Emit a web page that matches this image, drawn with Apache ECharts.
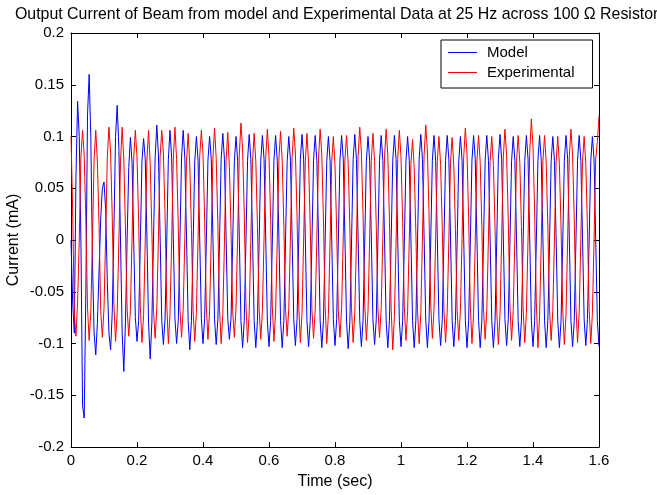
<!DOCTYPE html>
<html><head><meta charset="utf-8">
<script src="https://cdn.jsdelivr.net/npm/echarts@6/dist/echarts.min.js"></script>
<style>html,body{margin:0;padding:0;background:#fff}#c{width:657px;height:495px}</style>
</head><body><div id="c"></div>
<script>
const chartTitle = 'Output Current of Beam from model and Experimental Data at 25 Hz across 100 \u03A9 Resistor';
const seriesNames = ['Model', 'Experimental'];
const xAxisName = 'Time (sec)';
const yAxisName = 'Current (mA)';
const xTicks = [0, 0.2, 0.4, 0.6, 0.8, 1, 1.2, 1.4, 1.6];
const yTicks = [-0.2, -0.15, -0.1, -0.05, 0, 0.05, 0.1, 0.15, 0.2];
const sampleStep = 0.005; // seconds between samples, first sample at t = 0

// Model current (mA), one row per 0.04 s cycle
const model = [
  0.000, -0.060, -0.090, 0.060, 0.134, 0.100, 0.000, -0.160,
  -0.172, -0.050, 0.120, 0.160, 0.100, -0.020, -0.090, -0.111,
  -0.080, -0.030, 0.020, 0.050, 0.056, 0.030, -0.040, -0.090,
  -0.106, -0.070, 0.010, 0.100, 0.130, 0.090, 0.000, -0.090,
  -0.127, -0.080, 0.000, 0.070, 0.099, 0.075, 0.000, -0.075,
  -0.098, -0.078, -0.004, 0.076, 0.098, 0.078, 0.004, -0.080,
  -0.115, -0.080, 0.000, 0.080, 0.111, 0.082, 0.004, -0.078,
  -0.101, -0.076, -0.004, 0.078, 0.106, 0.080, 0.002, -0.076,
  -0.100, -0.078, -0.002, 0.080, 0.106, 0.079, 0.004, -0.078,
  -0.106, -0.078, -0.004, 0.076, 0.100, 0.077, 0.002, -0.076,
  -0.100, -0.076, -0.002, 0.077, 0.100, 0.078, 0.004, -0.077,
  -0.101, -0.077, -0.003, 0.078, 0.103, 0.078, 0.003, -0.076,
  -0.096, -0.075, -0.002, 0.076, 0.100, 0.077, 0.002, -0.078,
  -0.104, -0.078, -0.004, 0.077, 0.102, 0.078, 0.003, -0.078,
  -0.104, -0.078, -0.003, 0.077, 0.101, 0.078, 0.003, -0.078,
  -0.103, -0.078, -0.003, 0.077, 0.101, 0.077, 0.002, -0.078,
  -0.104, -0.078, -0.002, 0.076, 0.100, 0.077, 0.003, -0.077,
  -0.102, -0.077, -0.003, 0.078, 0.102, 0.078, 0.002, -0.078,
  -0.103, -0.078, -0.004, 0.077, 0.101, 0.077, 0.003, -0.078,
  -0.104, -0.078, -0.003, 0.076, 0.100, 0.077, 0.002, -0.077,
  -0.102, -0.077, -0.002, 0.077, 0.101, 0.078, 0.003, -0.079,
  -0.105, -0.079, -0.004, 0.078, 0.102, 0.078, 0.002, -0.078,
  -0.103, -0.078, -0.003, 0.076, 0.100, 0.077, 0.003, -0.077,
  -0.101, -0.077, -0.002, 0.077, 0.101, 0.077, 0.002, -0.078,
  -0.104, -0.078, -0.003, 0.077, 0.101, 0.078, 0.003, -0.078,
  -0.103, -0.078, -0.004, 0.076, 0.100, 0.077, 0.002, -0.078,
  -0.104, -0.078, -0.003, 0.078, 0.102, 0.078, 0.003, -0.078,
  -0.104, -0.078, -0.002, 0.077, 0.101, 0.077, 0.002, -0.077,
  -0.102, -0.077, -0.003, 0.077, 0.101, 0.078, 0.003, -0.078,
  -0.103, -0.078, -0.004, 0.076, 0.100, 0.077, 0.002, -0.078,
  -0.104, -0.078, -0.003, 0.077, 0.101, 0.078, 0.003, -0.078,
  -0.104, -0.078, -0.002, 0.077, 0.101, 0.077, 0.002, -0.078,
  -0.104, -0.078, -0.003, 0.078, 0.102, 0.078, 0.003, -0.077,
  -0.102, -0.077, -0.004, 0.076, 0.100, 0.077, 0.002, -0.078,
  -0.103, -0.078, -0.003, 0.077, 0.101, 0.078, 0.003, -0.078,
  -0.103, -0.078, -0.002, 0.077, 0.101, 0.077, 0.002, -0.078,
  -0.104, -0.078, -0.003, 0.076, 0.100, 0.077, 0.003, -0.078,
  -0.104, -0.078, -0.004, 0.077, 0.101, 0.078, 0.002, -0.078,
  -0.103, -0.078, -0.003, 0.077, 0.101, 0.077, 0.003, -0.077,
  -0.102, -0.077, -0.002, 0.076, 0.100, 0.077, 0.002, -0.078,
  -0.103
];

// Experimental current (mA), one row per 0.04 s cycle
const experimental = [
  0.100, 0.030, -0.070, -0.093, -0.060, 0.000, 0.080, 0.106,
  0.082, 0.020, -0.065, -0.097, -0.070, 0.000, 0.078, 0.106,
  0.075, 0.015, -0.068, -0.094, -0.066, 0.004, 0.080, 0.109,
  0.085, 0.022, -0.062, -0.098, -0.070, -0.002, 0.076, 0.109,
  0.078, 0.012, -0.066, -0.093, -0.068, 0.002, 0.079, 0.106,
  0.080, 0.018, -0.064, -0.099, -0.072, 0.000, 0.077, 0.106,
  0.074, 0.010, -0.068, -0.095, -0.066, 0.003, 0.080, 0.106,
  0.084, 0.024, -0.060, -0.100, -0.071, -0.002, 0.078, 0.109,
  0.078, 0.014, -0.066, -0.094, -0.067, 0.002, 0.076, 0.103,
  0.072, 0.010, -0.068, -0.098, -0.070, 0.000, 0.080, 0.106,
  0.083, 0.020, -0.063, -0.096, -0.068, 0.002, 0.079, 0.108,
  0.079, 0.016, -0.066, -0.100, -0.072, -0.002, 0.077, 0.104,
  0.070, 0.008, -0.069, -0.094, -0.066, 0.004, 0.082, 0.113,
  0.088, 0.026, -0.060, -0.099, -0.071, 0.000, 0.076, 0.103,
  0.076, 0.014, -0.066, -0.096, -0.068, 0.002, 0.079, 0.107,
  0.081, 0.020, -0.064, -0.098, -0.070, -0.001, 0.078, 0.105,
  0.077, 0.014, -0.066, -0.093, -0.066, 0.003, 0.080, 0.108,
  0.084, 0.022, -0.062, -0.099, -0.071, 0.000, 0.076, 0.103,
  0.074, 0.012, -0.067, -0.095, -0.068, 0.002, 0.079, 0.107,
  0.082, 0.020, -0.063, -0.100, -0.072, -0.002, 0.075, 0.100,
  0.072, 0.010, -0.068, -0.094, -0.066, 0.003, 0.077, 0.101,
  0.074, 0.012, -0.066, -0.099, -0.070, 0.000, 0.081, 0.109,
  0.085, 0.024, -0.061, -0.097, -0.069, 0.001, 0.077, 0.103,
  0.076, 0.014, -0.066, -0.094, -0.066, 0.003, 0.080, 0.107,
  0.082, 0.020, -0.065, -0.106, -0.074, -0.003, 0.078, 0.106,
  0.080, 0.018, -0.064, -0.097, -0.069, 0.000, 0.074, 0.097,
  0.070, 0.008, -0.068, -0.100, -0.071, 0.002, 0.082, 0.111,
  0.086, 0.024, -0.061, -0.095, -0.067, 0.001, 0.076, 0.100,
  0.073, 0.012, -0.066, -0.099, -0.070, 0.000, 0.075, 0.099,
  0.072, 0.010, -0.067, -0.097, -0.068, 0.002, 0.080, 0.108,
  0.083, 0.021, -0.063, -0.100, -0.071, -0.001, 0.076, 0.101,
  0.075, 0.013, -0.066, -0.096, -0.068, 0.002, 0.076, 0.100,
  0.073, 0.011, -0.067, -0.101, -0.072, 0.000, 0.080, 0.107,
  0.082, 0.020, -0.063, -0.097, -0.069, 0.001, 0.076, 0.101,
  0.075, 0.013, -0.066, -0.099, -0.070, 0.002, 0.084, 0.117,
  0.090, 0.028, -0.060, -0.104, -0.073, -0.002, 0.076, 0.101,
  0.075, 0.013, -0.066, -0.097, -0.068, 0.001, 0.075, 0.100,
  0.073, 0.011, -0.067, -0.101, -0.072, 0.000, 0.080, 0.107,
  0.082, 0.020, -0.063, -0.099, -0.070, 0.001, 0.076, 0.100,
  0.074, 0.012, -0.066, -0.100, -0.071, 0.000, 0.078, 0.095,
  0.120
];

const FONT = 'Liberation Sans, Arial, Helvetica, sans-serif';
const toPairs = arr => arr.map((v, i) => [+(i * sampleStep).toFixed(4), v]);
const fmt = v => String(+(+v).toFixed(2));

const baseX = {
  type: 'value', min: xTicks[0], max: xTicks[xTicks.length - 1], interval: 0.2,
  axisLine: { show: true, onZero: false, lineStyle: { color: '#000', width: 1 } },
  axisTick: { show: true, inside: true, length: 5, lineStyle: { color: '#000' } },
  splitLine: { show: false }
};
const baseY = {
  type: 'value', min: yTicks[0], max: yTicks[yTicks.length - 1], interval: 0.05,
  axisLine: { show: true, onZero: false, lineStyle: { color: '#000', width: 1 } },
  axisTick: { show: true, inside: true, length: 5, lineStyle: { color: '#000' } },
  splitLine: { show: false }
};

const chart = echarts.init(document.getElementById('c'), null, { renderer: 'canvas' });
chart.setOption({
  animation: false,
  backgroundColor: '#fff',
  title: {
    text: chartTitle, left: 10, top: 2,
    textStyle: { fontFamily: FONT, fontSize: 15.9, fontWeight: 'normal', color: '#000' }
  },
  grid: { left: 71, right: 58, top: 33, bottom: 48, containLabel: false, outerBoundsMode: 'none' },
  legend: {
    data: seriesNames, orient: 'vertical', left: 441, top: 40,
    backgroundColor: '#fff', borderColor: '#000', borderWidth: 1,
    padding: [5, 18, 8, 7], itemGap: 5, itemWidth: 29, itemHeight: 1, icon: 'rect',
    textStyle: { fontFamily: FONT, fontSize: 15, color: '#000', padding: [0, 0, 0, 5] }
  },
  xAxis: [
    Object.assign({}, baseX, {
      position: 'bottom',
      name: xAxisName, nameLocation: 'middle', nameGap: 27, nameMoveOverlap: false,
      nameTextStyle: { fontFamily: FONT, fontSize: 16, color: '#000' },
      axisLabel: { color: '#000', fontFamily: FONT, fontSize: 15, margin: 6, formatter: fmt }
    }),
    Object.assign({}, baseX, { position: 'top', axisLabel: { show: false } })
  ],
  yAxis: [
    Object.assign({}, baseY, {
      position: 'left',
      name: yAxisName, nameLocation: 'middle', nameGap: 49, nameMoveOverlap: false,
      nameTextStyle: { fontFamily: FONT, fontSize: 16, color: '#000' },
      axisLabel: { color: '#000', fontFamily: FONT, fontSize: 15, margin: 7, formatter: fmt }
    }),
    Object.assign({}, baseY, { position: 'right', axisLabel: { show: false } })
  ],
  series: [
    {
      name: seriesNames[0], type: 'line', xAxisIndex: 0, yAxisIndex: 0,
      data: toPairs(model), showSymbol: false, symbol: 'none',
      lineStyle: { color: '#0000ff', width: 1 }, itemStyle: { color: '#0000ff' }
    },
    {
      name: seriesNames[1], type: 'line', xAxisIndex: 0, yAxisIndex: 0,
      data: toPairs(experimental), showSymbol: false, symbol: 'none',
      lineStyle: { color: '#ff0000', width: 1 }, itemStyle: { color: '#ff0000' }
    }
  ]
});
</script>
</body></html>
